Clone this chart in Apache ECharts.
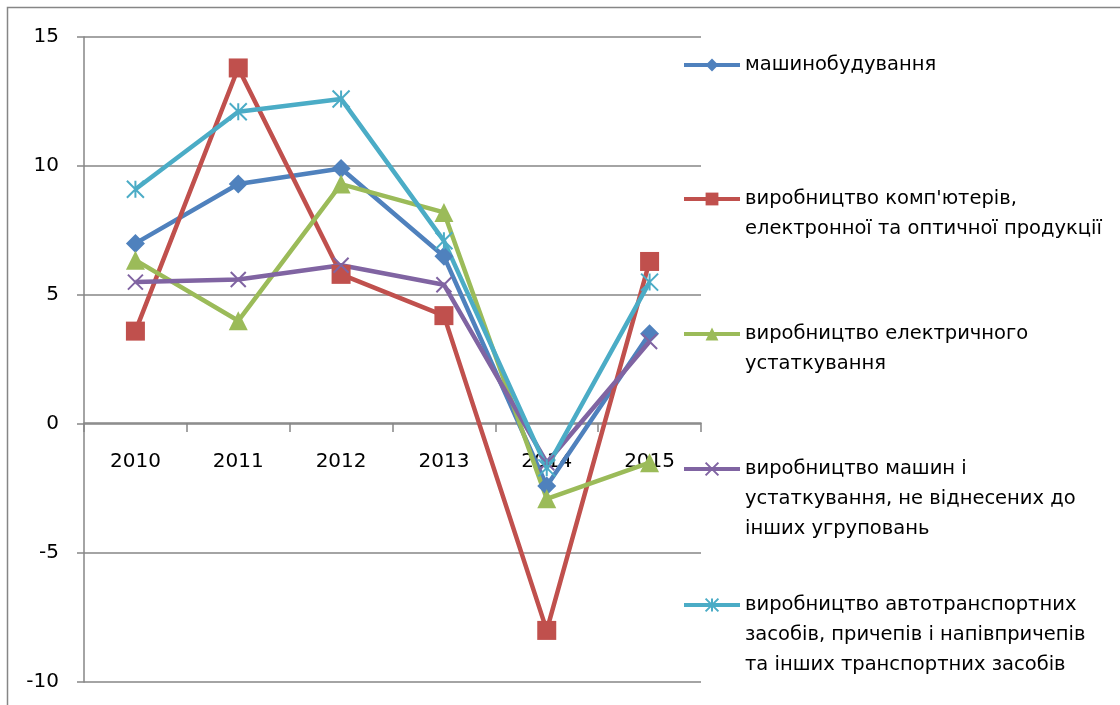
<!DOCTYPE html>
<html>
<head>
<meta charset="utf-8">
<script src="https://cdn.jsdelivr.net/npm/echarts@6/dist/echarts.min.js"></script>
<style>
    html, body { margin: 0; padding: 0; background: #fff; }
    #chart { width: 1120px; height: 705px; }
</style>
</head>
<body>
<div id="chart"></div>
<script>
const years = ['2010', '2011', '2012', '2013', '2014', '2015']
const yTicks = [-10, -5, 0, 5, 10, 15]

const seriesNames = [
    'машинобудування',
    'виробництво комп\'ютерів,\nелектронної та оптичної продукції',
    'виробництво електричного\nустаткування',
    'виробництво машин і\nустаткування, не віднесених до\nінших угруповань',
    'виробництво автотранспортних\nзасобів, причепів і напівпричепів\nта інших транспортних засобів',
]
const machineBuilding = [7.0, 9.3, 9.9, 6.5, -2.4, 3.5]
const computers = [3.6, 13.8, 5.8, 4.2, -8.0, 6.3]
const electrical = [6.35, 4.0, 9.3, 8.2, -2.9, -1.5]
const machinery = [5.5, 5.6, 6.15, 5.4, -1.5, 3.2]
const vehicles = [9.1, 12.1, 12.6, 7.1, -1.7, 5.5]

const FONT = 'DejaVu Sans'
const GRAY = '#868686'

// symbol per series; X-like ones are drawn with a stroke
const styles = [
    { color: '#4F81BD', symbol: 'diamond', size: 19, stroke: false },
    { color: '#C0504D', symbol: 'rect', size: 19, stroke: false },
    { color: '#9BBB59', symbol: 'triangle', size: 19, stroke: false },
    { color: '#8064A2', symbol: 'path://M0,0L10,10M10,0L0,10', size: 15, stroke: true },
    { color: '#4BACC6', symbol: 'path://M0,0L10,10M10,0L0,10M5,0L5,10', size: 17, stroke: true },
]
const values = [machineBuilding, computers, electrical, machinery, vehicles]

// icon centre y of each legend entry
const legendY = [65, 199, 334, 469, 605]
const LINE_H = 30

const chart = echarts.init(document.getElementById('chart'), null, { renderer: 'canvas' })

// one legend per entry; blank lines on top keep the icon on the first text line
const legends = seriesNames.map((name, i) => {
    const lines = name.split('\n').length
    const blockH = (lines * 2 - 1) * LINE_H
    return {
        show: true,
        orient: 'vertical',
        left: 682,
        top: legendY[i] - blockH / 2,
        padding: 0,
        itemWidth: 56,
        itemHeight: 16,
        data: [name],
        formatter: n => ' \n'.repeat(lines - 1) + n,
        lineStyle: { width: 4 },
        textStyle: {
            fontFamily: FONT,
            fontSize: 19.5,
            color: '#000',
            lineHeight: LINE_H,
        },
    }
})

chart.setOption({
    animation: false,
    backgroundColor: '#fff',
    textStyle: { fontFamily: FONT },
    graphic: [{
        type: 'rect',
        shape: { x: 7.5, y: 7.5, width: 1200, height: 800 },
        style: { fill: 'none', stroke: GRAY, lineWidth: 1.5 },
        silent: true,
    }],
    legend: legends,
    grid: {
        left: 84,
        top: 37,
        right: 419,
        bottom: 23,
        outerBoundsMode: 'none',
    },
    xAxis: {
        type: 'category',
        data: years,
        boundaryGap: true,
        position: 'bottom',
        // sit the category axis on the zero line
        offset: -259,
        axisLine: { onZero: false, lineStyle: { color: GRAY, width: 1.5 } },
        axisTick: { show: true, length: 9, lineStyle: { color: GRAY, width: 1.5 } },
        axisLabel: { color: '#000', fontFamily: FONT, fontSize: 20, margin: 29 },
        splitLine: { show: false },
    },
    yAxis: {
        type: 'value',
        min: yTicks[0],
        max: yTicks[yTicks.length - 1],
        interval: 5,
        axisLine: { show: true, lineStyle: { color: GRAY, width: 1.5 } },
        axisTick: { show: true, length: 7, lineStyle: { color: GRAY, width: 1.5 } },
        axisLabel: { color: '#000', fontFamily: FONT, fontSize: 20, margin: 25 },
        splitLine: { show: true, lineStyle: { color: GRAY, width: 1.5 } },
    },
    series: seriesNames.map((name, i) => ({
        name,
        type: 'line',
        data: values[i],
        symbol: styles[i].symbol,
        symbolSize: styles[i].size,
        showAllSymbol: true,
        lineStyle: { color: styles[i].color, width: 4.5 },
        itemStyle: styles[i].stroke
            ? { color: styles[i].color, borderColor: styles[i].color, borderWidth: 2 }
            : { color: styles[i].color, borderWidth: 0 },
        emphasis: { disabled: true },
    })),
})
</script>
</body>
</html>
